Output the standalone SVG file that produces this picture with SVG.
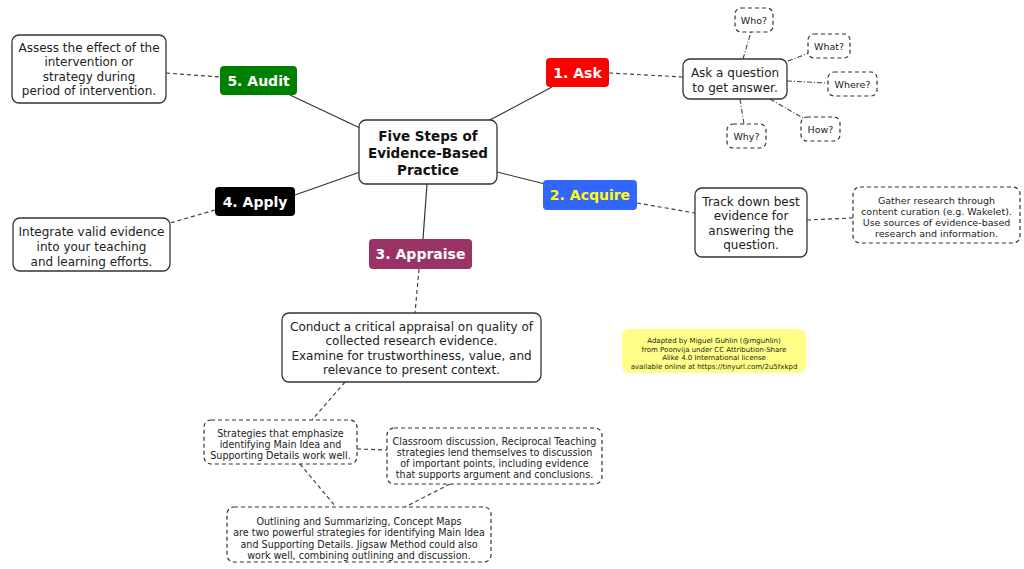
<svg xmlns="http://www.w3.org/2000/svg" width="1024" height="569" viewBox="0 0 1024 569">
<style>
text{font-family:"DejaVu Sans","Liberation Sans",sans-serif;text-anchor:middle;fill:#222}
.box{fill:#fff;stroke:#333;stroke-width:1.3}
.dbox{fill:#fff;stroke:#333;stroke-width:1.2;stroke-dasharray:4,3}
.lt{font-weight:bold;font-size:14px;fill:#fff}
.t12{font-size:12px}
.t10{font-size:9.6px}
.t95{font-size:9.5px}
.solid{stroke:#333;stroke-width:1.2;fill:none}
.dash{stroke:#444;stroke-width:1.2;fill:none;stroke-dasharray:4,3}
.dd{stroke:#444;stroke-width:1.1;fill:none;stroke-dasharray:5,2,1,2}
</style>
<rect width="1024" height="569" fill="#fff"/>
<g id="connectors">
<line class="solid" x1="488" y1="121" x2="552" y2="87"/>
<line class="solid" x1="290" y1="95" x2="360" y2="128"/>
<line class="solid" x1="497" y1="172" x2="545" y2="184"/>
<line class="solid" x1="295" y1="195" x2="360" y2="172"/>
<line class="solid" x1="427" y1="184" x2="423" y2="239"/>
<line class="dash" x1="166" y1="73" x2="220" y2="77"/>
<line class="dash" x1="609" y1="73" x2="683" y2="77"/>
<line class="dd" x1="743" y1="59" x2="751" y2="32"/>
<line class="dd" x1="788" y1="61" x2="809" y2="53"/>
<line class="dd" x1="787" y1="81" x2="828" y2="83"/>
<line class="dd" x1="770" y1="99" x2="803" y2="118"/>
<line class="dd" x1="740" y1="99" x2="744" y2="124"/>
<line class="dash" x1="637" y1="203" x2="695" y2="213"/>
<line class="dash" x1="807" y1="220" x2="853" y2="218"/>
<line class="dash" x1="215" y1="210" x2="170" y2="223"/>
<line class="dash" x1="419" y1="269" x2="415" y2="313"/>
<line class="dash" x1="345" y1="382" x2="312" y2="420"/>
<line class="dash" x1="357" y1="449" x2="387" y2="450"/>
<line class="dash" x1="300" y1="464" x2="336" y2="507"/>
<line class="dash" x1="450" y1="484" x2="405" y2="507"/>
</g>
<g id="center">
<rect class="box" x="359" y="120" width="138" height="64" rx="7"/>
<text x="428" y="141" style="font-weight:bold;font-size:13.5px;fill:#111">Five Steps of</text>
<text x="428" y="158" style="font-weight:bold;font-size:13.5px;fill:#111">Evidence-Based</text>
<text x="428" y="175" style="font-weight:bold;font-size:13.5px;fill:#111">Practice</text>
</g>
<g id="audit">
<rect x="220" y="66" width="77" height="29" rx="4" fill="#008000"/>
<text class="lt" x="258.5" y="86">5. Audit</text>
</g>
<g id="audit-desc">
<rect class="box" x="12" y="35" width="154" height="68" rx="7"/>
<text class="t12" x="89" y="52">Assess the effect of the</text>
<text class="t12" x="89" y="66">intervention or</text>
<text class="t12" x="89" y="81">strategy during</text>
<text class="t12" x="89" y="95">period of intervention.</text>
</g>
<g id="ask">
<rect x="546" y="58" width="63" height="29" rx="4" fill="#ff0000"/>
<text class="lt" x="577.5" y="78">1. Ask</text>
</g>
<g id="ask-desc">
<rect class="box" x="683" y="59" width="104" height="40" rx="7"/>
<text class="t12" x="735" y="77">Ask a question</text>
<text class="t12" x="735" y="92">to get answer.</text>
</g>
<g id="who">
<rect class="dbox" x="735" y="8" width="38" height="24" rx="6"/>
<text class="t95" x="754" y="24">Who?</text>
</g>
<g id="what">
<rect class="dbox" x="808" y="34" width="42" height="24" rx="6"/>
<text class="t95" x="829" y="50">What?</text>
</g>
<g id="where">
<rect class="dbox" x="828" y="72" width="49" height="24" rx="6"/>
<text class="t95" x="852.5" y="88">Where?</text>
</g>
<g id="how">
<rect class="dbox" x="801" y="117" width="39" height="24" rx="6"/>
<text class="t95" x="820.5" y="133">How?</text>
</g>
<g id="why">
<rect class="dbox" x="727" y="124" width="39" height="24" rx="6"/>
<text class="t95" x="746.5" y="140">Why?</text>
</g>
<g id="acquire">
<rect x="543" y="180" width="94" height="30" rx="4" fill="#3366ff"/>
<text class="lt" x="590" y="200" style="fill:#ffff00">2. Acquire</text>
</g>
<g id="acquire-desc">
<rect class="box" x="695" y="188" width="112" height="69" rx="7"/>
<text class="t12" x="751" y="206">Track down best</text>
<text class="t12" x="751" y="220">evidence for</text>
<text class="t12" x="751" y="235">answering the</text>
<text class="t12" x="751" y="249">question.</text>
</g>
<g id="gather">
<rect class="dbox" x="853" y="187" width="167" height="56" rx="7"/>
<text class="t95" x="936.5" y="204">Gather research through</text>
<text class="t95" x="936.5" y="215">content curation (e.g. Wakelet).</text>
<text class="t95" x="936.5" y="226">Use sources of evidence-based</text>
<text class="t95" x="936.5" y="237">research and information.</text>
</g>
<g id="apply">
<rect x="215" y="187" width="80" height="29" rx="4" fill="#000"/>
<text class="lt" x="255" y="207">4. Apply</text>
</g>
<g id="apply-desc">
<rect class="box" x="13" y="218" width="157" height="53" rx="7"/>
<text class="t12" x="91.5" y="236">Integrate valid evidence</text>
<text class="t12" x="91.5" y="251">into your teaching</text>
<text class="t12" x="91.5" y="266">and learning efforts.</text>
</g>
<g id="appraise">
<rect x="369" y="239" width="103" height="30" rx="4" fill="#993366"/>
<text class="lt" x="420.5" y="259">3. Appraise</text>
</g>
<g id="appraise-desc">
<rect class="box" x="282" y="313" width="259" height="69" rx="7"/>
<text class="t12" x="411.5" y="331">Conduct a critical appraisal on quality of</text>
<text class="t12" x="411.5" y="345">collected research evidence.</text>
<text class="t12" x="411.5" y="360">Examine for trustworthiness, value, and</text>
<text class="t12" x="411.5" y="374">relevance to present context.</text>
</g>
<g id="strategies">
<rect class="dbox" x="204" y="420" width="153" height="44" rx="7"/>
<text class="t10" x="280.5" y="437">Strategies that emphasize</text>
<text class="t10" x="280.5" y="448">identifying Main Idea and</text>
<text class="t10" x="280.5" y="459">Supporting Details work well.</text>
</g>
<g id="classroom">
<rect class="dbox" x="387" y="428" width="215" height="56" rx="7"/>
<text class="t10" x="494.5" y="445">Classroom discussion, Reciprocal Teaching</text>
<text class="t10" x="494.5" y="456">strategies lend themselves to discussion</text>
<text class="t10" x="494.5" y="467">of important points, including evidence</text>
<text class="t10" x="494.5" y="478">that supports argument and conclusions.</text>
</g>
<g id="outlining">
<rect class="dbox" x="227" y="507" width="264" height="55" rx="7"/>
<text class="t10" x="359" y="525">Outlining and Summarizing, Concept Maps</text>
<text class="t10" x="359" y="536">are two powerful strategies for identifying Main Idea</text>
<text class="t10" x="359" y="548">and Supporting Details. Jigsaw Method could also</text>
<text class="t10" x="359" y="559">work well, combining outlining and discussion.</text>
</g>
<g id="credit">
<rect x="622" y="329" width="184" height="44" rx="7" fill="#ffff88"/>
<text x="714" y="343" style="font-size:7px">Adapted by Miguel Guhlin (@mguhlin)</text>
<text x="714" y="351.5" style="font-size:7px">from Poonvija under CC Attribution-Share</text>
<text x="714" y="360" style="font-size:7px">Alike 4.0 International license</text>
<text x="714" y="368.5" style="font-size:7px">available online at https://tinyurl.com/2u5fxkpd</text>
</g>
</svg>
